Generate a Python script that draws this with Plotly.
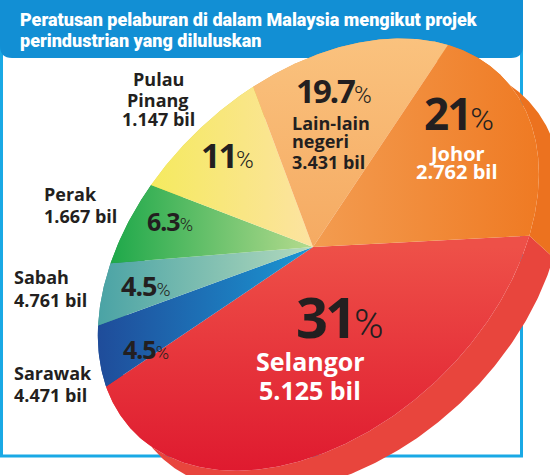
import numpy as np
import plotly.graph_objects as go

# Investment by state (approved manufacturing projects)
states = ["Selangor", "Sarawak", "Sabah", "Perak", "Pulau<br>Pinang", "Lain-lain<br>negeri", "Johor"]
shares = [31, 4.5, 4.5, 6.3, 11, 19.7, 21]
value_bil = [5.125, 4.471, 4.761, 1.667, 1.147, 3.431, 2.762]

# Perspective of the tilted disc: maps the unit circle (cos t, sin t, 1) onto the page
PROJECTION = np.array([[123.8014, -205.5629, 324.1972],
                       [9.70006, 140.0018, 189.7406],
                       [-0.153726, -0.2735349, 1.0]])
centre = (313, 247)
depth = (24, 22)

top_cols = [("#ee5048", "#df1a2f"), ("#1f4c9a", "#1b97d3"), ("#4aa3a5", "#b4dabd"),
            ("#1ea84a", "#b5db8e"), ("#f5ea5f", "#fce3a1"), ("#fac27e", "#f5aa62"),
            ("#f39c50", "#ef7a23")]
side_cols = ["#e8453d", "#1a4690", "#3f8f91", "#1a9040", "#e0d450", "#eea95c", "#ec721f"]


def project(t):
    u = np.vstack([np.cos(t), np.sin(t), np.ones_like(t)])
    p = PROJECTION @ u
    return p[0] / p[2], p[1] / p[2]


cum = np.cumsum([0] + shares) / sum(shares) * 2 * np.pi

fig = go.Figure()

arcs = []
for k in range(len(shares)):
    a0, a1 = cum[k], cum[k + 1]
    n = max(int(np.degrees(a1 - a0) * 2), 10)
    arcs.append(project(np.linspace(a0, a1, n)))

# side walls of the disc
for k, (ax, ay) in enumerate(arcs):
    xs = np.concatenate([ax, ax[::-1] + depth[0]])
    ys = np.concatenate([ay, ay[::-1] + depth[1]])
    fig.add_trace(go.Scatter(x=xs, y=ys, fill="toself", mode="lines", line=dict(width=0),
                             fillcolor=side_cols[k], hoverinfo="skip", showlegend=False))

# top faces of the slices, shaded lighter towards the middle
for k, (ax, ay) in enumerate(arcs):
    xs = np.concatenate([[centre[0]], ax, [centre[0]]])
    ys = np.concatenate([[centre[1]], ay, [centre[1]]])
    c0, c1 = top_cols[k]
    if k == 0:
        grad = dict(type="vertical", colorscale=[[0, c0], [1, c1]], start=centre[1], stop=ys.max())
    elif k in (1, 2, 3, 4):
        grad = dict(type="horizontal", colorscale=[[0, c0], [1, c1]], start=xs.min(), stop=centre[0])
    elif k == 5:
        grad = dict(type="vertical", colorscale=[[0, c0], [1, c1]], start=ys.min(), stop=centre[1])
    else:
        grad = dict(type="horizontal", colorscale=[[0, c0], [1, c1]], start=centre[0], stop=xs.max())
    fig.add_trace(go.Scatter(x=xs, y=ys, fill="toself", mode="lines", line=dict(width=0),
                             fillgradient=grad, fillcolor=c1,
                             name=f"{states[k].replace('<br>', ' ')}: {shares[k]:g}%",
                             hoverinfo="name", showlegend=False))

dark = "#231f20"
LBL = "Open Sans"
NUM = "Noto Sans"


def text(x, y, s, size, color=dark, xanchor="left"):
    fig.add_annotation(x=x, y=y, xref="x", yref="y", text=f"<b>{s}</b>",
                       showarrow=False, xanchor=xanchor, yanchor="middle",
                       font=dict(family=LBL, size=size, color=color))


def name_block(k, x, ys, size, color=dark, xanchor="left"):
    lines = states[k].split("<br>") + [f"{value_bil[k]:.3f} bil"]
    for line, y in zip(lines, ys):
        text(x, y, line, size, color, xanchor)


def pct(k, x, y, size, color=dark):
    s = f"{shares[k]:g}"
    ls = -max(1, round(size * 0.05))
    fig.add_annotation(x=x, y=y, xref="x", yref="y", showarrow=False, xanchor="left", yanchor="middle",
                       text=f"<b><span style='letter-spacing:{ls}px'>{s}</span></b>"
                            f"<span style='font-family:Roboto;font-weight:300;font-size:{size * 0.72:.0f}px'>%</span>",
                       font=dict(family=NUM, size=size, color=color))


name_block(4, 158, [78.5, 99.5, 118.5], 18, xanchor="center")
name_block(3, 42, [193.5, 215.5], 18)
name_block(2, 12, [276.5, 300], 18)
name_block(1, 12, [372.5, 395], 18)
name_block(5, 290, [122.5, 141, 161.5], 18)
name_block(6, 457, [153.5, 171.5], 20, color="white", xanchor="center")
name_block(0, 310, [361, 389.5], 25, color="white", xanchor="center")

pct(0, 294, 316, 56)
pct(6, 422, 113, 44)
pct(5, 294, 90, 33)
pct(4, 199, 155, 34)
pct(3, 145, 221, 25)
pct(2, 119, 285, 27)
pct(1, 121, 349, 25)

title_font = dict(family="Roboto", size=18, color="white", weight=900)
fig.add_annotation(x=18, y=19, xref="x", yref="y", showarrow=False, xanchor="left", yanchor="middle",
                   text="Peratusan pelaburan di dalam Malaysia mengikut projek", font=title_font)
fig.add_annotation(x=18, y=40, xref="x", yref="y", showarrow=False, xanchor="left", yanchor="middle",
                   text="perindustrian yang diluluskan", font=title_font)

# frame and title banner
fig.add_shape(type="rect", x0=1.5, x1=521.5, y0=1.5, y1=456, line=dict(color="#19a9e5", width=3),
              fillcolor="rgba(0,0,0,0)", layer="below")
fig.add_shape(type="path", path="M 0 0 L 523 0 L 523 46 Q 523 58 511 58 L 12 58 Q 0 58 0 46 Z",
              fillcolor="#128fd4", line=dict(width=0), layer="below")

fig.update_layout(width=550, height=475, margin=dict(l=0, r=0, t=0, b=0),
                  paper_bgcolor="white", plot_bgcolor="white",
                  xaxis=dict(range=[0, 550], visible=False, fixedrange=True),
                  yaxis=dict(range=[475, 0], visible=False, fixedrange=True))
fig.write_html("out.html")
